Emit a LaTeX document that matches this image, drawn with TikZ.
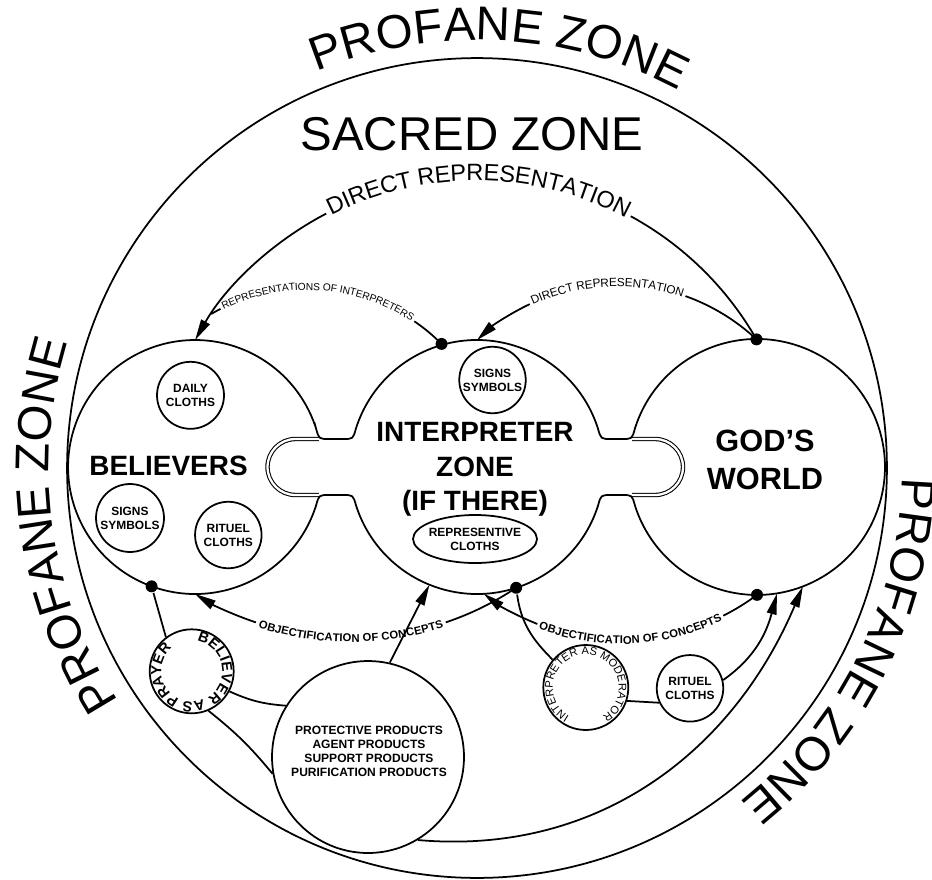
\documentclass[tikz,border=0pt]{standalone}
\usepackage{fontspec}
\setmainfont{Liberation Sans}
\usetikzlibrary{decorations.text,arrows.meta,calc,shapes.geometric}
\begin{document}
\begin{tikzpicture}[x=0.02cm,y=-0.02cm,line width=1pt,
  zone/.style={circle,inner sep=0pt,outer sep=0pt,minimum size=#1},
  lab/.style={circle,draw,inner sep=0pt,minimum size=#1,align=center,
    font=\fontsize{6.8pt}{8pt}\selectfont\bfseries},
  smalltxt/.style={align=center,font=\fontsize{6.8pt}{8pt}\selectfont\bfseries},
  bigtxt/.style={align=center,font=\fontsize{15.9pt}{19.5pt}\selectfont\bfseries},
  arr/.style={-{Triangle[length=12pt,width=5.5pt]}},
  dot/.style={circle,fill,inner sep=0pt,minimum size=6.8pt},
  dbl/.style={double,double distance=1.3pt,line width=0.6pt},
]
\useasboundingbox (0,0) rectangle (932,879);

% centres of the arcs
\coordinate (cO) at (477,468);
\coordinate (cBig) at (476,500);
\coordinate (cSDR) at (617,488.7);
\coordinate (cRoI) at (307,478);
\coordinate (cOL) at (350.8,340.3);
\coordinate (cOR) at (621.1,412.5);

% zones (invisible anchors)
\node[zone=5.08cm] (B) at (195,467) {};
\node[zone=5.08cm] (I) at (477,467) {};
\node[zone=5.12cm] (G) at (757,467) {};

% outer circle
\draw (cO) circle[radius=8.2cm];

% notches
\draw[dbl] (318.9,439) -- (295.5,439) arc[start angle=90,end angle=270,radius=0.56cm] -- (318.9,495);
\draw[dbl] (632.1,439) -- (655,439) arc[start angle=90,end angle=-90,radius=0.56cm] -- (632.1,495);

% outline of the three zones
\draw (316.0,428.3) .. controls (318.9,439) .. (328.9,439) -- (343.1,439)
  .. controls (353.1,439) .. (356.0,428.3)
  arc[start angle=162.26,end angle=17.74,radius=2.54cm]
  .. controls (600.9,439) .. (610.9,439) -- (622.1,439)
  .. controls (632.1,439) .. (635.0,428.2)
  arc[start angle=162.37,end angle=-162.37,radius=2.56cm]
  .. controls (632.1,495) .. (622.1,495) -- (610.9,495)
  .. controls (600.9,495) .. (598.0,505.7)
  arc[start angle=-17.74,end angle=-162.26,radius=2.54cm]
  .. controls (353.1,495) .. (343.1,495) -- (328.9,495)
  .. controls (318.9,495) .. (316.0,505.7)
  arc[start angle=-17.74,end angle=-342.26,radius=2.54cm] -- cycle;

% outer texts
\path[decorate,decoration={text along path,text align=center,
  text={|\fontsize{27pt}{27pt}\selectfont|PROFANE ZONE}}]
  ($(cO)+(127:8.56cm)$) arc[start angle=127,end angle=47,radius=8.56cm];
\path[decorate,decoration={text along path,text align=center,
  text={|\fontsize{27pt}{27pt}\selectfont|PROFANE ZONE}}]
  ($(cO)+(228:8.56cm)$) arc[start angle=228,end angle=148,radius=8.56cm];
\path[decorate,decoration={text along path,text align=center,
  text={|\fontsize{27pt}{27pt}\selectfont|PROFANE ZONE}}]
  ($(cO)+(13.5:8.5cm)$) arc[start angle=13.5,end angle=-66.5,radius=8.5cm];

\node[anchor=base,font=\fontsize{27pt}{27pt}\selectfont] (tSac) at (472,150) {SACRED ZONE};

% dots
\node[dot] (dGt) at ($(cBig)+(29.8:6.466cm)$) {};
\node[dot] (dIt) at ($(cRoI)+(44.9:3.8cm)$) {};
\node[dot] (dIb) at ($(cOL)+(-56.25:5.954cm)$) {};
\node[dot] (dGb) at ($(cOR)+(-53.3:4.55cm)$) {};
\node[dot] (dBb) at (B.-110) {};

% big direct representation
\path[decorate,decoration={text along path,text align=center,raise=-2.27pt,
  text={|\fontsize{13.4pt}{13.4pt}\selectfont|DIRECT REPRESENTATION}}]
  ($(cBig)+(121.5:6.466cm)$) arc[start angle=121.5,end angle=57.5,radius=6.466cm];
\draw (dGt.center) arc[start angle=29.8,end angle=61.4,radius=6.466cm];
\draw[arr] ($(cBig)+(117.6:6.466cm)$) arc[start angle=117.6,end angle=150.35,radius=6.466cm];

% small direct representation
\path[decorate,decoration={text along path,text align=center,raise=-1.13pt,
  text={|\fontsize{6.7pt}{6.7pt}\selectfont|DIRECT REPRESENTATION}}]
  ($(cSDR)+(122.85:4.084cm)$) arc[start angle=122.85,end angle=62.85,radius=4.084cm];
\draw (dGt.center) arc[start angle=46.9,end angle=70.4,radius=4.084cm];
\draw[arr] ($(cSDR)+(115.3:4.084cm)$) arc[start angle=115.3,end angle=133.3,radius=4.084cm];

% representations of interpreters
\path[decorate,decoration={text along path,text align=center,raise=-1.13pt,
  text={|\fontsize{5.8pt}{5.8pt}\selectfont|REPRESENTATIONS OF INTERPRETERS}}]
  ($(cRoI)+(121.35:3.8cm)$) arc[start angle=121.35,end angle=51.35,radius=3.8cm];
\draw (dIt.center) arc[start angle=44.9,end angle=55.6,radius=3.8cm];
\draw ($(cRoI)+(117.1:3.8cm)$) arc[start angle=117.1,end angle=120.3,radius=3.8cm];

% objectification left
\path[decorate,decoration={text along path,text align=center,raise=-2.3pt,
  text={|\fontsize{6.4pt}{6.4pt}\selectfont\bfseries|OBJECTIFICATION OF CONCEPTS}}]
  ($(cOL)+(-120:5.954cm)$) arc[start angle=-120,end angle=-60,radius=5.954cm];
\draw (dIb.center) arc[start angle=-56.25,end angle=-71.4,radius=5.954cm];
\draw[arr] ($(cOL)+(-108.6:5.954cm)$) arc[start angle=-108.6,end angle=-121.55,radius=5.954cm];

% objectification right
\path[decorate,decoration={text along path,text align=center,raise=-2.3pt,
  text={|\fontsize{6.4pt}{6.4pt}\selectfont\bfseries|OBJECTIFICATION OF CONCEPTS}}]
  ($(cOR)+(-117.5:4.55cm)$) arc[start angle=-117.5,end angle=-57.5,radius=4.55cm];
\draw (dGb.center) arc[start angle=-53.3,end angle=-63.3,radius=4.55cm];
\draw[arr] ($(cOR)+(-111.6:4.55cm)$) arc[start angle=-111.6,end angle=-127.2,radius=4.55cm];

% labelled circles
\node[lab=1.34cm] (daily) at (190.5,395.3) {DAILY\\CLOTHS};
\node[lab=1.36cm] (sig1) at (130,518) {SIGNS\\SYMBOLS};
\node[lab=1.33cm] (rit1) at (228.3,535) {RITUEL\\CLOTHS};
\node[lab=1.33cm] (sig2) at (492.5,380) {SIGNS\\SYMBOLS};
\node[ellipse,draw,inner sep=0pt,minimum width=2.48cm,minimum height=0.96cm] (rep) at (475,539) {};
\node[smalltxt] (tRep) at (rep.center) {REPRESENTIVE\\CLOTHS};
\node[lab=1.33cm] (rit2) at (690,688.3) {RITUEL\\CLOTHS};
\node[circle,draw,inner sep=0pt,minimum size=1.68cm] (bap) at (191.7,671.3) {};
\node[circle,draw,inner sep=0pt,minimum size=1.70cm] (iam) at (585.8,687.5) {};
\node[circle,draw,inner sep=0pt,minimum size=3.84cm] (prod) at (368,757) {};

% texts round the small circles
\path[decorate,decoration={text along path,text align={fit to path},
  text={|\fontsize{8.3pt}{8.3pt}\selectfont\bfseries|BELIEVER AS PRAYER}}]
  ($(bap.center)+(80:0.61cm)$) arc[start angle=80,end angle=-230,radius=0.61cm];
\path[decorate,decoration={text along path,text align={fit to path},
  text={|\fontsize{6.3pt}{6.3pt}\selectfont|INTERPRETER AS MODERATOR}}]
  ($(iam.center)+(240:0.66cm)$) arc[start angle=240,end angle=-60,radius=0.66cm];

% zone titles
\node[bigtxt,anchor=base] (tBel) at (168.5,475.5) {BELIEVERS};
\node[bigtxt] (tInt) at (475,469.4) {INTERPRETER\\ZONE\\(IF THERE)};
\node[align=center,font=\fontsize{17.5pt}{21.5pt}\selectfont\bfseries] (tGod) at (765,460) {GOD’S\\WORLD};
\node[align=center,font=\fontsize{6.85pt}{8.1pt}\selectfont\bfseries] (tProd) at (369,751.4)
  {PROTECTIVE PRODUCTS\\AGENT PRODUCTS\\SUPPORT PRODUCTS\\PURIFICATION PRODUCTS};

% connectors at the bottom
\draw (dBb) -- (bap.127);
\draw (bap.-28) to[bend right=10] (prod.148);
\draw (bap.-67) to[bend left=6] (prod.190);
\draw[arr] (prod.77) -- (I.-112);
\draw[arr] (prod.-59) to[out=-5,in=-113] (G.-69);
\draw (dIb) to[out=-82,in=135] (iam.140);
\draw (iam.-18) -- (rit2.-155);
\draw[arr] (rit2.14) to[out=35,in=-105] (G.-81);
\end{tikzpicture}
\end{document}
